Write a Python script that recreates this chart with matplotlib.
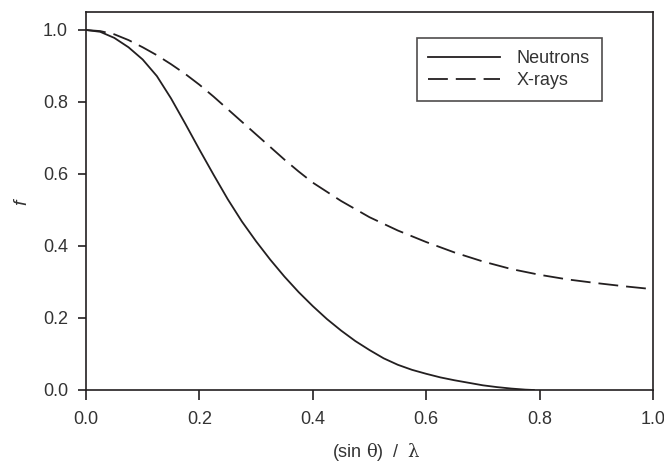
import numpy as np
import matplotlib
matplotlib.use('Agg')
import matplotlib.pyplot as plt

# Form factors vs (sin theta)/lambda
s_neutron = [0.0, 0.025, 0.05, 0.075, 0.10, 0.125, 0.15, 0.175, 0.20, 0.225,
             0.25, 0.275, 0.30, 0.325, 0.35, 0.375, 0.40, 0.425, 0.45, 0.475,
             0.50, 0.525, 0.55, 0.575, 0.60, 0.625, 0.65, 0.675, 0.70, 0.725,
             0.75, 0.775, 0.79]
f_neutron = [1.0, 0.995, 0.978, 0.952, 0.918, 0.872, 0.81, 0.74, 0.668, 0.598,
             0.53, 0.468, 0.413, 0.362, 0.315, 0.272, 0.233, 0.197, 0.165, 0.136,
             0.111, 0.088, 0.07, 0.056, 0.045, 0.035, 0.027, 0.02, 0.013, 0.008,
             0.004, 0.001, 0.0]

s_xray = [0.0, 0.025, 0.05, 0.075, 0.10, 0.125, 0.15, 0.175, 0.20, 0.225, 0.25,
          0.275, 0.30, 0.325, 0.35, 0.375, 0.40, 0.45, 0.50, 0.55, 0.60, 0.65,
          0.70, 0.75, 0.80, 0.85, 0.90, 0.95, 1.00]
f_xray = [1.0, 0.997, 0.988, 0.972, 0.952, 0.93, 0.905, 0.878, 0.848, 0.815, 0.78,
          0.745, 0.71, 0.675, 0.64, 0.607, 0.576, 0.525, 0.48, 0.443, 0.411, 0.382,
          0.357, 0.336, 0.32, 0.307, 0.297, 0.288, 0.28]

xticks = [0.0, 0.2, 0.4, 0.6, 0.8, 1.0]
yticks = [0.0, 0.2, 0.4, 0.6, 0.8, 1.0]

ink = '#231f20'
txt = '#333333'
plt.rcParams['font.family'] = ['Liberation Sans', 'DejaVu Sans']
plt.rcParams['mathtext.fontset'] = 'custom'
plt.rcParams['mathtext.rm'] = 'DejaVu Serif'
plt.rcParams['mathtext.it'] = 'Liberation Sans:italic'

fig = plt.figure(figsize=(6.64, 4.65), dpi=100)
ax = fig.add_axes([0.1295, 0.1613, 0.8539, 0.8129])

ax.plot(s_neutron, f_neutron, color=ink, lw=1.3, label='Neutrons')
ax.plot(s_xray, f_xray, color=ink, lw=1.3, dashes=(11, 4.4), label='X-rays')

ax.set_xlim(0, 1.0)
ax.set_ylim(0, 1.05)
ax.set_xticks(xticks)
ax.set_yticks(yticks)
ax.set_xticklabels(['%.1f' % v for v in xticks])
ax.set_yticklabels(['%.1f' % v for v in yticks])

for sp in ax.spines.values():
    sp.set_linewidth(1.2)
    sp.set_color(ink)

ax.tick_params(axis='x', direction='out', length=7, width=1.2, color=ink,
               labelsize=13, labelcolor=txt, pad=8)
ax.tick_params(axis='y', direction='out', length=6, width=1.2, color=ink,
               labelsize=13, labelcolor=txt, pad=7)

# axis titles placed by hand
ax.set_xlabel(r'(sin $\mathrm{\theta}$)  /  $\mathrm{\lambda}$', fontsize=13,
              color=txt)
ax.xaxis.set_label_coords(0.513, -0.135)
ax.set_ylabel(r'$f$', fontsize=14, color=txt)
ax.yaxis.set_label_coords(-0.097, 0.5)

leg = ax.legend(loc='upper right', bbox_to_anchor=(0.906, 0.9176),
                bbox_transform=fig.transFigure, borderaxespad=0,
                fontsize=13, frameon=True, fancybox=False,
                handlelength=3.95, handletextpad=0.95, labelspacing=0.28,
                borderpad=0.65)
leg.get_frame().set_edgecolor(ink)
leg.get_frame().set_linewidth(1.2)
for t in leg.get_texts():
    t.set_color(txt)

fig.savefig('out.png', dpi=100)
